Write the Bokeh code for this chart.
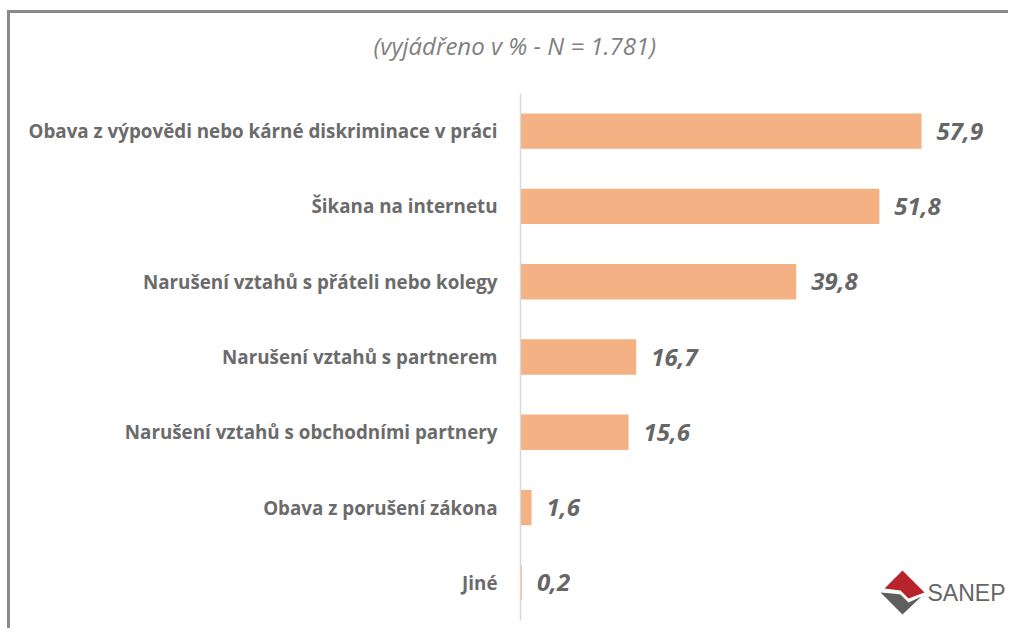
from bokeh.plotting import figure
from bokeh.models import FactorRange, Range1d, Label, PolyAnnotation, ColumnDataSource, Title
from bokeh.core.properties import value
from bokeh.embed import file_html
from bokeh.resources import INLINE

categories = [
    "Obava z výpovědi nebo kárné diskriminace v práci",
    "Šikana na internetu",
    "Narušení vztahů s přáteli nebo kolegy",
    "Narušení vztahů s partnerem",
    "Narušení vztahů s obchodními partnery",
    "Obava z porušení zákona",
    "Jiné",
]
values = [57.9, 51.8, 39.8, 16.7, 15.6, 1.6, 0.2]
value_labels = ["57,9", "51,8", "39,8", "16,7", "15,6", "1,6", "0,2"]
title_text = "(vyjádřeno v % - N = 1.781)"
logo_text = "SANEP"

src = ColumnDataSource(dict(cat=categories, val=values, lab=value_labels))

p = figure(width=1001, height=618,
           y_range=FactorRange(factors=categories[::-1]),
           x_range=Range1d(0, 70.3),
           output_backend="svg", toolbar_location=None,
           min_border_left=510, min_border_right=4,
           min_border_top=80, min_border_bottom=11)
p.styles = {"position": "absolute", "top": "10px", "left": "7px",
            "border-top": "3px solid #8a8a8a", "border-left": "3px solid #8a8a8a"}

p.hbar(y="cat", right="val", left=0, height=0.47, source=src,
       fill_color="#F4B183", line_color=None)
p.text(x="val", y="cat", text="lab", source=src, x_offset=15,
       text_baseline="middle", text_align="left",
       text_font=value("Open Sans"), text_font_style="bold italic",
       text_font_size="24px", text_color="#666666")

p.title.text = ""
# spacer between frame and title
p.add_layout(Title(text=" ", text_font_size="2px", standoff=28), "above")
p.add_layout(Title(text=title_text, align="left", offset=-147, standoff=0,
                   text_font="Open Sans", text_font_style="italic",
                   text_font_size="24px", text_color="#7f7f7f"), "above")

p.xaxis.visible = False
p.xgrid.visible = False
p.ygrid.visible = False
p.outline_line_color = None
ax = p.yaxis[0]
ax.axis_line_color = "#d9d9d9"
ax.axis_line_width = 1.5
ax.major_tick_line_color = None
ax.minor_tick_line_color = None
ax.major_label_standoff = 17
ax.major_label_text_font = "Open Sans"
ax.major_label_text_font_style = "bold"
ax.major_label_text_font_size = "18.8px"
ax.major_label_text_color = "#6b6b6b"

# SANEP logo (decoration)
cx, cy, r = 382, 28, 22
p.add_layout(PolyAnnotation(
    xs=[cx - r + 4, cx, cx + r, cx + 6, cx - 2, cx - 10],
    ys=[cy + 4, cy + r, cy, cy - 6, cy + 2, cy + 3],
    xs_units="screen", ys_units="screen",
    fill_color="#B5252A", fill_alpha=1, line_color=None))
p.add_layout(PolyAnnotation(
    xs=[cx - r, cx - 10, cx - 2, cx + 6, cx + r - 3, cx],
    ys=[cy, cy - 1, cy - 2, cy - 10, cy - 4, cy - r],
    xs_units="screen", ys_units="screen",
    fill_color="#5f5f5f", fill_alpha=1, line_color=None))
p.add_layout(Label(x=cx + 25, y=cy, x_units="screen", y_units="screen",
                   text=logo_text, text_align="left", text_baseline="middle",
                   text_font="Liberation Sans", text_font_size="23px",
                   text_color="#666666"))

open("out.html", "w").write(file_html(p, INLINE))
